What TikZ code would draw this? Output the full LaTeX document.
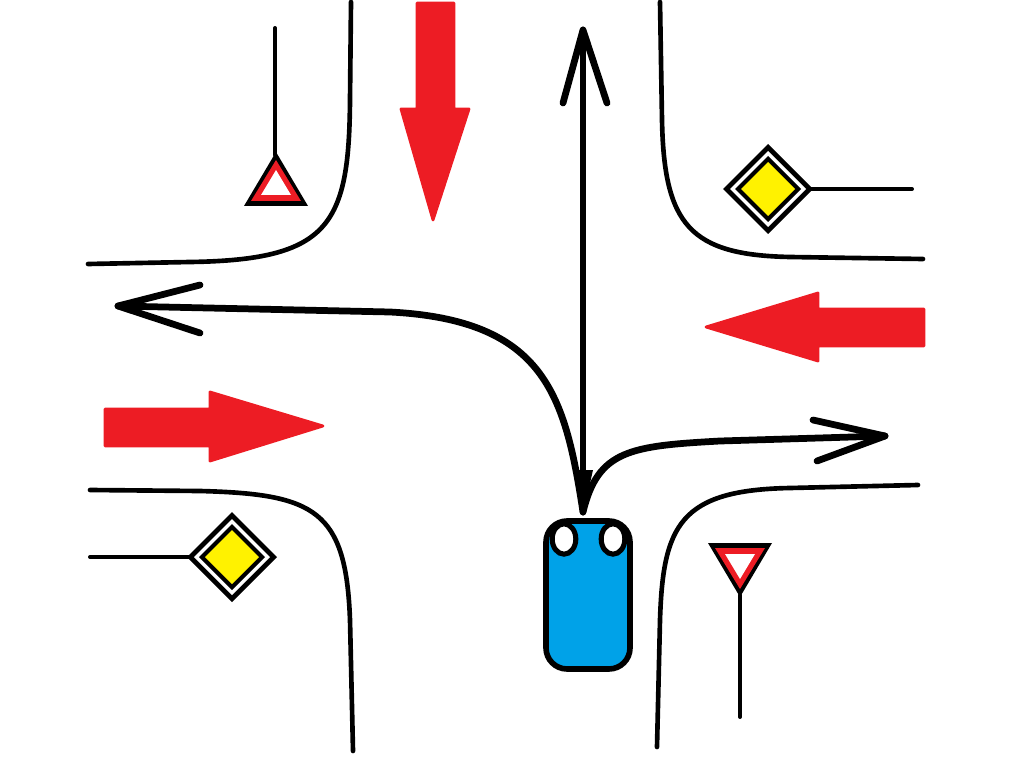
\documentclass[tikz,border=0pt]{standalone}
\usepackage{xcolor}
\usetikzlibrary{arrows.meta, positioning, calc}
\definecolor{signred}{RGB}{237, 28, 36}
\definecolor{signyellow}{RGB}{255, 242, 0}
\definecolor{carblue}{RGB}{0, 162, 232}
\tikzset{
  roadedge/.style={line width=3.3pt, line cap=round},
  signpost/.style={line width=2.8pt, line cap=round},
  route/.style={line width=4.8pt, line cap=round, line join=round},
  flow/.style={fill=signred, draw=signred, line width=2pt, line join=round},
}

\begin{document}
\begin{tikzpicture}[x=0.025cm, y=-0.025cm]
  \useasboundingbox (0,0) rectangle (1024,767);

  % ── Road edges ────────────────────────────────────────────────────────────
  \draw[roadedge] (351,2) -- (350,100) .. controls (349,225) and (330,260) .. (190,262) -- (88,264);
  \draw[roadedge] (660,2) -- (662,120) .. controls (664,225) and (690,255) .. (790,257) -- (923,259);
  \draw[roadedge] (90,490) -- (200,491) .. controls (315,494) and (346,510) .. (350,620) -- (353,751);
  \draw[roadedge] (657,747) -- (660,620) .. controls (663,525) and (680,490) .. (790,488) -- (918,485);

  % ── Traffic flow arrows ───────────────────────────────────────────────────
  \draw[flow] (417,3) -- (454,3) -- (454,109) -- (469,109) -- (433,220) -- (401,109)
    -- (417,109) -- cycle;
  \draw[flow] (924,309) -- (924,346) -- (818,346) -- (818,361) -- (706,327) -- (818,293)
    -- (818,309) -- cycle;
  \draw[flow] (105,409) -- (105,446) -- (210,446) -- (210,461) -- (323,426) -- (210,392)
    -- (210,409) -- cycle;

  % ── Routes out of the junction ────────────────────────────────────────────
  \draw[route] (583,512) -- (583,30);
  \draw[route] (563,103) -- (583,30) -- (607,103);
  \draw[route] (583,512) .. controls (565,395) and (545,320) .. (390,312) -- (118,306);
  \draw[route] (200,285) -- (118,306) -- (200,333);
  \draw[route] (583,512) .. controls (598,450) and (630,446) .. (720,441) -- (885,436);
  \draw[route] (813,420) -- (885,436) -- (817,461);
  \fill (575,470) -- (593,470) -- (583,514) -- cycle;

  % ── Car ───────────────────────────────────────────────────────────────────
  \draw[fill=carblue, line width=4pt, rounded corners=15pt]
    (546,521) rectangle (630,669);
  \foreach \xpos in {564, 613} {
    \draw[fill=white, line width=3.6pt] (\xpos,539) ellipse (8.4pt and 10.8pt);
  }

  % ── Give way signs (post, then black, red and white triangles) ────────────
  \draw[signpost] (275,28) -- (275,155);
  \draw[signpost] (740,595) -- (740,717);
  \foreach \xpos/\ypos/\dir in {276/152/1, 740/597/-1} {
    \fill (\xpos,\ypos) -- ({\xpos-32},{\ypos+\dir*54})
      -- ({\xpos+32},{\ypos+\dir*54}) -- cycle;
    \fill[signred] (\xpos,{\ypos+\dir*8}) -- ({\xpos-25},{\ypos+\dir*49})
      -- ({\xpos+25},{\ypos+\dir*49}) -- cycle;
    \fill[white] (\xpos,{\ypos+\dir*18}) -- ({\xpos-15},{\ypos+\dir*43})
      -- ({\xpos+15},{\ypos+\dir*43}) -- cycle;
  }

  % ── Priority road signs ───────────────────────────────────────────────────
  \draw[signpost] (810,189) -- (912,189);
  \draw[signpost] (90,557) -- (190,557);
  \foreach \xpos/\ypos in {768/189, 232/557} {
    \foreach \half/\shade in {45/black, 38/white, 33/black, 27/signyellow} {
      \fill[\shade] ({\xpos-\half},\ypos) -- (\xpos,{\ypos-\half})
        -- ({\xpos+\half},\ypos) -- (\xpos,{\ypos+\half}) -- cycle;
    }
  }
\end{tikzpicture}
\end{document}
